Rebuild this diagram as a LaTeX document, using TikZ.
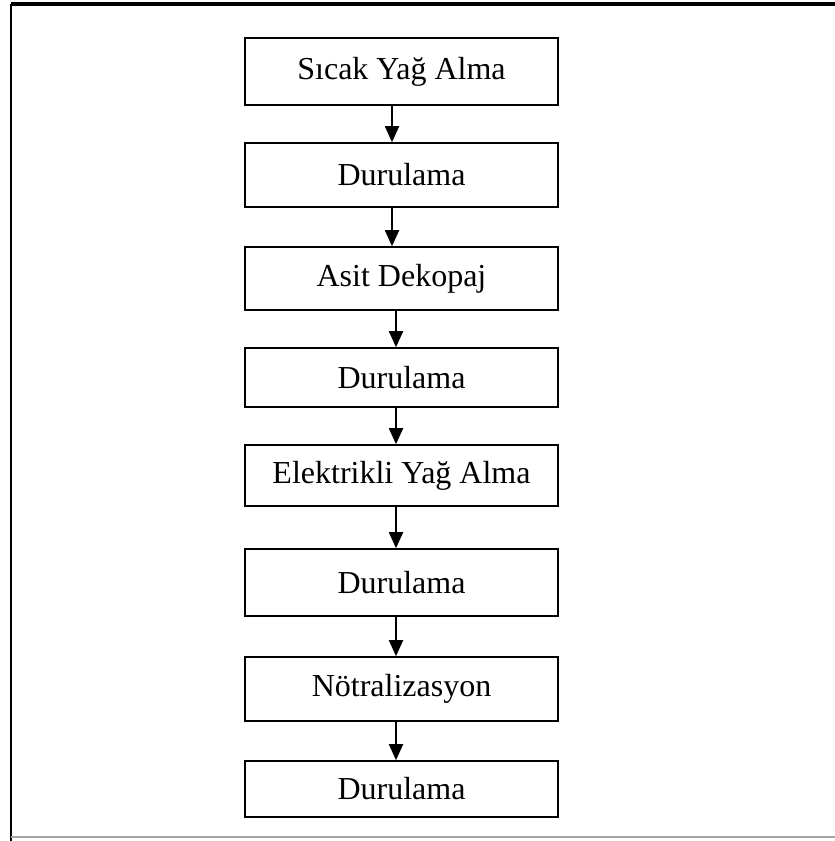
\documentclass[tikz,border=0pt]{standalone}
\usepackage{fontspec}
\setmainfont{Liberation Serif}
\usetikzlibrary{arrows.meta}
\tikzset{
  stepbox/.style={draw=black, line width=1.6pt, rectangle, minimum width=313pt, inner sep=0pt,
    font=\fontsize{32}{38}\selectfont},
  arr/.style={draw=black, line width=1.8pt, -{Triangle[length=16pt,width=14pt]}},
}
\begin{document}
\begin{tikzpicture}[x=1pt,y=-1pt]
\useasboundingbox (0,0) rectangle (835,841);
% frame
\coordinate (ftl) at (11,4);
\coordinate (ftr) at (835,4);
\coordinate (fbl) at (11,841);
\coordinate (gbl) at (11,837);
\coordinate (gbr) at (835,837);
\draw[line width=3.5pt] (ftl) -- (ftr);
\draw[line width=1.6pt] (ftl) -- (fbl);
\draw[line width=1.4pt, gray!70] (gbl) -- (gbr);
% boxes
\node[stepbox, minimum height=67pt] (b1) at (401.5,71.5) {Sıcak Yağ Alma};
\node[stepbox, minimum height=64pt] (b2) at (401.5,175) {Durulama};
\node[stepbox, minimum height=63pt] (b3) at (401.5,278.5) {Asit Dekopaj};
\node[stepbox, minimum height=59pt] (b4) at (401.5,377.5) {Durulama};
\node[stepbox, minimum height=61pt] (b5) at (401.5,475.5) {Elektrikli Yağ Alma};
\node[stepbox, minimum height=67pt] (b6) at (401.5,582.5) {Durulama};
\node[stepbox, minimum height=64pt] (b7) at (401.5,689) {Nötralizasyon};
\node[stepbox, minimum height=56pt] (b8) at (401.5,789) {Durulama};
% arrows
\draw[arr] ([xshift=-9.5pt]b1.south) -- ([xshift=-9.5pt]b2.north);
\draw[arr] ([xshift=-9.5pt]b2.south) -- ([xshift=-9.5pt]b3.north);
\draw[arr] ([xshift=-5.5pt]b3.south) -- ([xshift=-5.5pt]b4.north);
\draw[arr] ([xshift=-5.5pt]b4.south) -- ([xshift=-5.5pt]b5.north);
\draw[arr] ([xshift=-5.5pt]b5.south) -- ([xshift=-5.5pt]b6.north);
\draw[arr] ([xshift=-5.5pt]b6.south) -- ([xshift=-5.5pt]b7.north);
\draw[arr] ([xshift=-5.5pt]b7.south) -- ([xshift=-5.5pt]b8.north);
\end{tikzpicture}
\end{document}
